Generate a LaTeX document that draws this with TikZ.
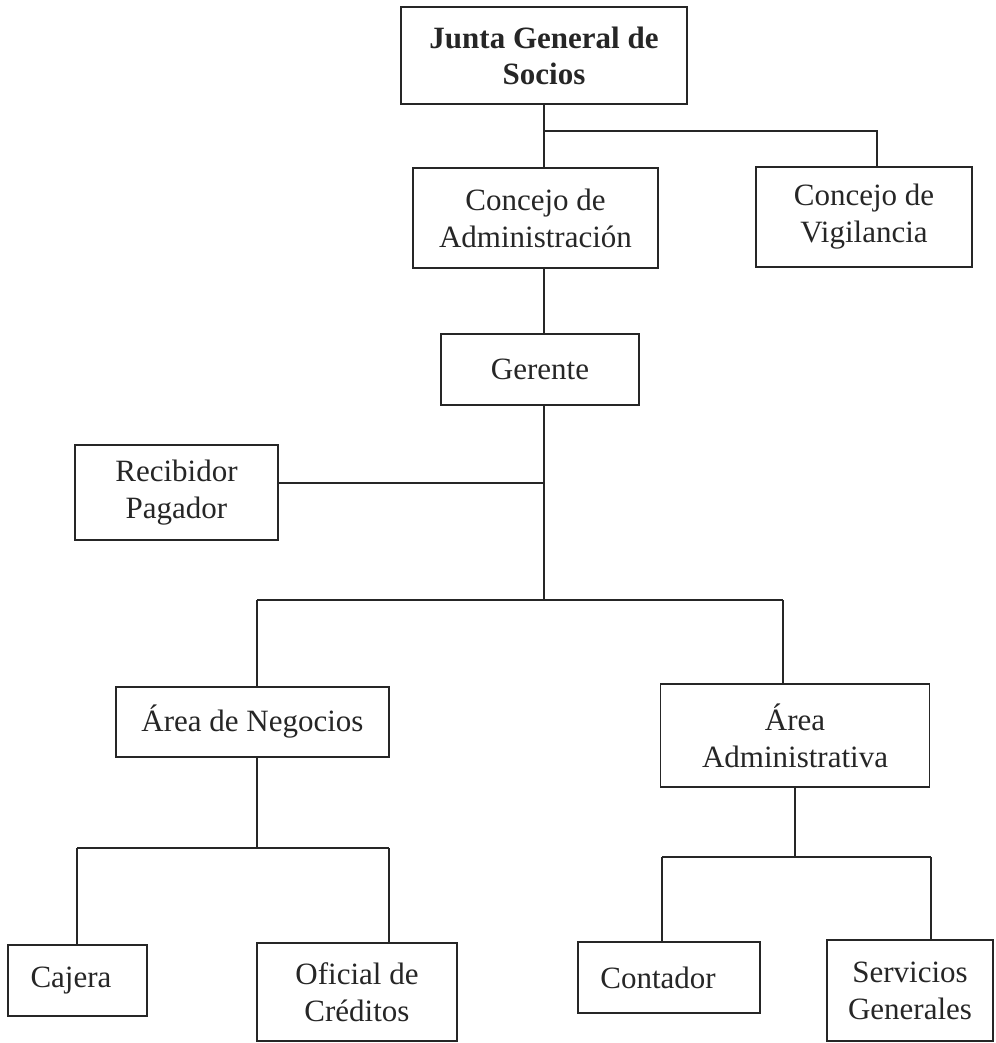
\documentclass[tikz,border=0pt]{standalone}
\usepackage{fontspec}
\setmainfont{Liberation Serif}
\definecolor{ink}{HTML}{262626}
\begin{document}
\begin{tikzpicture}[x=1pt,y=-1pt,
  box/.style={draw=ink,line width=1.3pt,inner sep=0pt,align=center,text=ink,
    font=\fontsize{31}{37}\selectfont,anchor=center},
  conn/.style={draw=ink,line width=1.3pt}]
\fill[white] (0,0) rectangle (995,1043);
\useasboundingbox (0,0) rectangle (995,1043);
% boxes
\node[box,minimum width=286pt,minimum height=97pt,font=\bfseries\fontsize{31}{36}\selectfont] (junta) at (544,55.5) {Junta General de\\Socios};
\node[box,minimum width=245pt,minimum height=100pt] (admin) at (535.5,218) {Concejo de\\Administración};
\node[box,minimum width=216pt,minimum height=100pt] (vig) at (864,217) {Concejo de\\Vigilancia};
\node[box,minimum width=198pt,minimum height=71pt] (ger) at (540,369.5) {Gerente};
\node[box,minimum width=203pt,minimum height=95pt] (rec) at (176.5,492.5) {Recibidor\\Pagador};
\node[box,minimum width=273pt,minimum height=70pt] (neg) at (252.5,722) {Área de Negocios};
\node[box,minimum width=269pt,minimum height=103pt] (adm2) at (795,735.5) {Área\\Administrativa};
\node[box,minimum width=139pt,minimum height=71pt] (caj) at (77.5,980.5) {Cajera\hspace*{13pt}};
\node[box,minimum width=200pt,minimum height=98pt] (ofi) at (357,992) {Oficial de\\Créditos};
\node[box,minimum width=182pt,minimum height=71pt] (cont) at (669,977.5) {Contador\hspace*{22pt}};
\node[box,minimum width=166pt,minimum height=101pt] (serv) at (910,990.5) {Servicios\\Generales};
% junction points
\coordinate (j1) at (877,131);
\coordinate (r1) at (544,483);
\coordinate (bL) at (257,600);
\coordinate (bM) at (544,600);
\coordinate (bR) at (783,600);
\coordinate (nL) at (77,848);
\coordinate (nR) at (389,848);
\coordinate (aL) at (662,857);
\coordinate (aR) at (931,857);
% connectors
\draw[conn] (junta.south) -- (junta.south |- admin.north);
\draw[conn] (junta.south |- j1) -- (j1) -- (j1 |- vig.north);
\draw[conn] (junta.south |- admin.south) -- (junta.south |- ger.north);
\draw[conn] (junta.south |- ger.south) -- (bM);
\draw[conn] (r1) -- (r1 -| rec.east);
\draw[conn] (bL) -- (bR);
\draw[conn] (bL) -- (bL |- neg.north);
\draw[conn] (bR) -- (bR |- adm2.north);
\draw[conn] (bL |- neg.south) -- (bL |- nL);
\draw[conn] (nL) -- (nR);
\draw[conn] (nL) -- (nL |- caj.north);
\draw[conn] (nR) -- (nR |- ofi.north);
\draw[conn] (adm2.south) -- (adm2.south |- aL);
\draw[conn] (aL) -- (aR);
\draw[conn] (aL) -- (aL |- cont.north);
\draw[conn] (aR) -- (aR |- serv.north);
\end{tikzpicture}
\end{document}
